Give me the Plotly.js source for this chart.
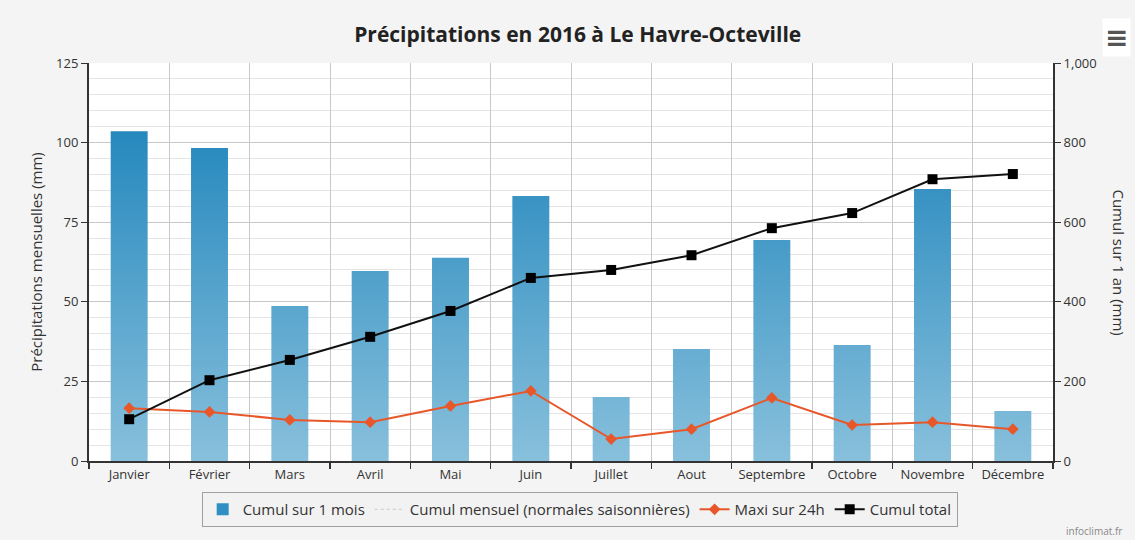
<!DOCTYPE html>
<html>
<head>
<meta charset="utf-8">
<script src="https://cdn.plot.ly/plotly-3.0.1.min.js"></script>
<style>html,body{margin:0;padding:0;background:#f4f4f4;}#chart{width:1135px;height:540px;}</style>
</head>
<body>
<div id="chart"></div>
<script>
const months = ["Janvier","Février","Mars","Avril","Mai","Juin","Juillet","Aout","Septembre","Octobre","Novembre","Décembre"];
const cumulMois = [103.6, 98.3, 48.7, 59.7, 63.8, 83.2, 20.1, 35.2, 69.4, 36.4, 85.4, 15.7];
const normales = [null, null, null, null, null, null, null, null, null, null, null, null];
const maxi24h = [16.6, 15.4, 12.9, 12.2, 17.3, 22.0, 6.9, 10.0, 19.8, 11.3, 12.2, 10.0];
const cumulTotal = [105, 203, 254, 312, 377, 460, 480, 517, 585, 623, 708, 721];
const leftTicks = [0, 25, 50, 75, 100, 125];
const rightTicks = [0, 200, 400, 600, 800, 1000];
const rightTickText = ["0", "200", "400", "600", "800", "1,000"];

const FONT = "Open Sans, DejaVu Sans, sans-serif";

const traces = [
  {type: "bar", x: months, y: cumulMois, name: "Cumul sur 1 mois",
   marker: {color: "#2f8fc2"}, width: 0.46, hoverinfo: "skip"},
  {type: "scatter", mode: "lines", x: months, y: normales, name: "Cumul mensuel (normales saisonnières)",
   line: {color: "#c8c8c8", width: 1, dash: "dot"}, hoverinfo: "skip"},
  {type: "scatter", mode: "lines+markers", x: months, y: maxi24h, name: "Maxi sur 24h",
   line: {color: "#e8572a", width: 2}, marker: {symbol: "diamond", size: 9, color: "#e8572a"}, hoverinfo: "skip"},
  {type: "scatter", mode: "lines+markers", x: months, y: cumulTotal, name: "Cumul total", yaxis: "y2",
   line: {color: "#111111", width: 2}, marker: {symbol: "square", size: 10, color: "#000000"}, hoverinfo: "skip"}
];

const layout = {
  width: 1135, height: 540,
  margin: {l: 89, r: 82, t: 63, b: 79, autoexpand: false},
  paper_bgcolor: "#f4f4f4", plot_bgcolor: "#ffffff",
  font: {family: FONT, size: 13, color: "#333333"},
  title: {text: "<b>Précipitations en 2016 à Le Havre-Octeville</b>", x: 0.509, xanchor: "center", y: 0.935, yanchor: "middle",
          font: {family: FONT, size: 21, color: "#222222"}},
  showlegend: true,
  legend: {orientation: "h", x: 0.509, xanchor: "center", y: -0.078, yanchor: "top",
           bgcolor: "#f2f2f2", bordercolor: "#a0a0a0", borderwidth: 1,
           font: {family: FONT, size: 15, color: "#333333"}, itemwidth: 30, tracegroupgap: 0},
  xaxis: {type: "category", range: [-0.5, 11.5], showline: true, linecolor: "#333333", linewidth: 2,
          ticks: "outside", tickson: "boundaries", ticklen: 6, tickcolor: "#333333", tickwidth: 1.5,
          showgrid: true, gridcolor: "#c8c8c8", gridwidth: 1, zeroline: false,
          tickfont: {family: FONT, size: 13, color: "#333333"}, fixedrange: true},
  yaxis: {range: [0, 125], tickvals: leftTicks, ticktext: leftTicks.map(String),
          showline: true, linecolor: "#333333", linewidth: 2, ticks: "outside", ticklen: 6, tickcolor: "#333333",
          showgrid: true, gridcolor: "#c8c8c8", gridwidth: 1, zeroline: false,
          minor: {dtick: 5, showgrid: true, gridcolor: "#e4e4e4", gridwidth: 1},
          tickfont: {family: FONT, size: 13, color: "#333333"},
          title: {text: "Précipitations mensuelles (mm)", standoff: 10, font: {family: FONT, size: 15, color: "#333333"}},
          automargin: false, fixedrange: true},
  yaxis2: {overlaying: "y", side: "right", range: [0, 1000], tickvals: rightTicks, ticktext: rightTickText,
           showline: true, linecolor: "#333333", linewidth: 2, ticks: "outside", ticklen: 6, tickcolor: "#333333",
           showgrid: false, zeroline: false, tickfont: {family: FONT, size: 13, color: "#333333"},
           automargin: false, fixedrange: true},
  annotations: [
    {text: "Cumul sur 1 an (mm)", textangle: 90, xref: "paper", yref: "paper", x: 1.068, y: 0.5,
     xanchor: "center", yanchor: "middle", showarrow: false, font: {family: FONT, size: 15, color: "#333333"}},
    {text: "infoclimat.fr", xref: "paper", yref: "paper", x: 1.074, y: -0.176, xanchor: "right", yanchor: "middle",
     showarrow: false, font: {family: FONT, size: 10, color: "#888888"}},
    {text: "<b>≡</b>", xref: "paper", yref: "paper", x: 1.066, y: 1.065, xanchor: "center", yanchor: "middle",
     showarrow: false, bgcolor: "#ffffff", borderpad: 2, font: {family: "DejaVu Sans", size: 28, color: "#555555"}}
  ]
};

Plotly.newPlot("chart", traces, layout, {displayModeBar: false, staticPlot: true}).then(function(gd) {
  const svg = gd.querySelector("svg.main-svg");
  const ns = "http://www.w3.org/2000/svg";
  let defs = svg.querySelector("defs");
  if (!defs) { defs = document.createElementNS(ns, "defs"); svg.insertBefore(defs, svg.firstChild); }
  const ph = gd._fullLayout._size.h;
  const grad = document.createElementNS(ns, "linearGradient");
  grad.setAttribute("id", "barGrad");
  grad.setAttribute("gradientUnits", "userSpaceOnUse");
  grad.setAttribute("x1", "0"); grad.setAttribute("x2", "0");
  grad.setAttribute("y1", String(ph * 0.15)); grad.setAttribute("y2", String(ph));
  const s1 = document.createElementNS(ns, "stop"); s1.setAttribute("offset", "0"); s1.setAttribute("stop-color", "#2387bd");
  const s2 = document.createElementNS(ns, "stop"); s2.setAttribute("offset", "1"); s2.setAttribute("stop-color", "#88c0dc");
  grad.appendChild(s1); grad.appendChild(s2);
  defs.appendChild(grad);
  gd.querySelectorAll(".barlayer .point path").forEach(function(p) { p.style.fill = "url(#barGrad)"; });
});
</script>
</body>
</html>
